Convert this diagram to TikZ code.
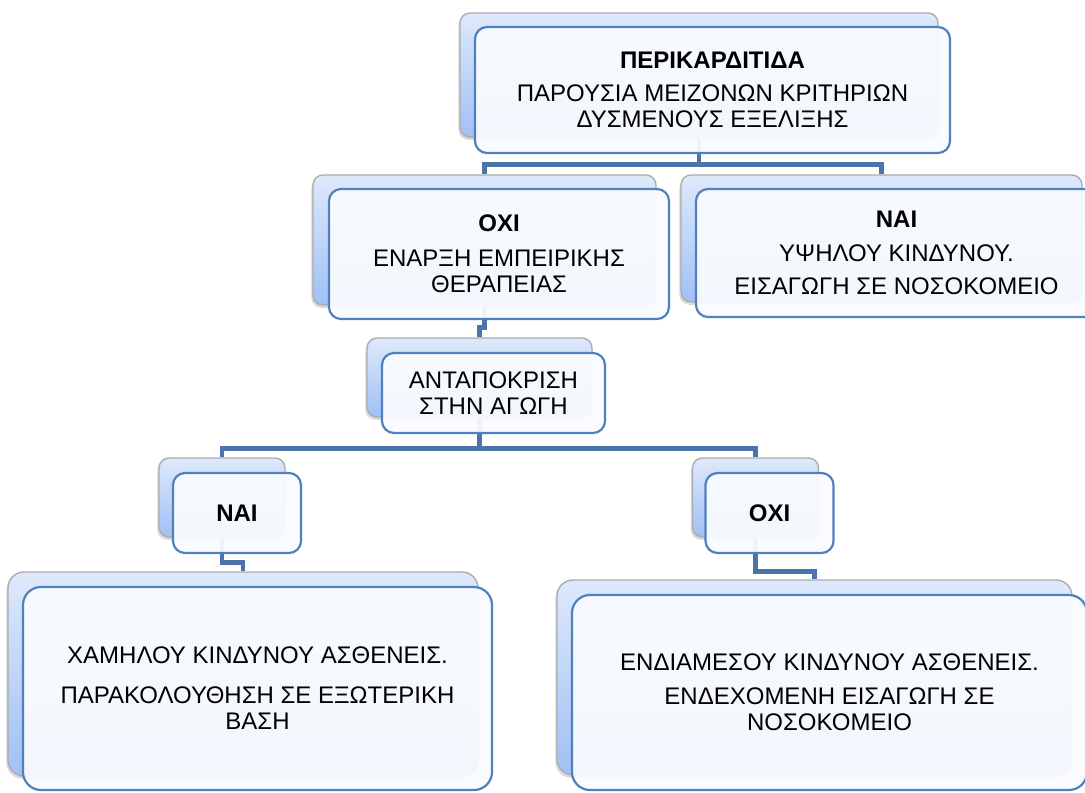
\documentclass[tikz,border=0pt]{standalone}
\usepackage{fontspec}
\setmainfont{Liberation Sans}
\usetikzlibrary{shadows,backgrounds}
\definecolor{linkblue}{RGB}{74,116,170}
\definecolor{boxedge}{RGB}{79,129,189}
\definecolor{backtop}{RGB}{222,233,251}
\definecolor{backbot}{RGB}{160,192,246}
\definecolor{frontfill}{RGB}{249,251,254}

\begin{document}
\begin{tikzpicture}[x=0.5pt, y=-0.5pt,
	back/.style={draw=gray!65, line width=0.7pt, rounded corners=5pt, top color=backtop, bottom color=backbot, drop shadow={shadow xshift=-0.8pt, shadow yshift=-1.4pt, opacity=0.3}},
	front/.style={draw=boxedge, line width=1.1pt, rounded corners=6pt, fill=frontfill, fill opacity=0.94, text opacity=1, align=center, inner sep=2pt, font=\fontsize{12}{13}\selectfont},
	link/.style={draw=linkblue, line width=2.3pt}]
	\useasboundingbox (0,0) rectangle (1085,792);
	\node[back, minimum width=239pt, minimum height=62pt] (topb) at (699,75) {};
	\node[front, minimum width=237.5pt, minimum height=63pt] (top) at (712.5,90) {\textbf{ΠΕΡΙΚΑΡΔΙΤΙΔΑ}\\[3.5pt]ΠΑΡΟΥΣΙΑ ΜΕΙΖΟΝΩΝ ΚΡΙΤΗΡΙΩΝ\\ΔΥΣΜΕΝΟΥΣ ΕΞΕΛΙΞΗΣ};
	\node[back, minimum width=171.5pt, minimum height=65pt] (nob) at (484.5,240) {};
	\node[front, minimum width=170pt, minimum height=65pt] (no) at (499,254) {\textbf{ΟΧΙ}\\[4.5pt]ΕΝΑΡΞΗ ΕΜΠΕΙΡΙΚΗΣ\\ΘΕΡΑΠΕΙΑΣ};
	\node[back, minimum width=200.5pt, minimum height=63.5pt] (yesb) at (881.5,238.5) {};
	\node[front, minimum width=200.5pt, minimum height=64pt] (yes) at (896.5,253) {\textbf{ΝΑΙ}\\[4pt]ΥΨΗΛΟΥ ΚΙΝΔΥΝΟΥ.\\[3.5pt]ΕΙΣΑΓΩΓΗ ΣΕ ΝΟΣΟΚΟΜΕΙΟ};
	\node[back, minimum width=112.5pt, minimum height=39.5pt] (antb) at (479.5,377.5) {};
	\node[front, minimum width=111.5pt, minimum height=40pt] (ant) at (493.5,393) {ΑΝΤΑΠΟΚΡΙΣΗ\\ΣΤΗΝ ΑΓΩΓΗ};
	\node[back, minimum width=63pt, minimum height=39.5pt] (yes2b) at (222,497.5) {};
	\node[front, minimum width=64pt, minimum height=40pt] (yes2) at (237,513) {\textbf{ΝΑΙ}};
	\node[back, minimum width=63pt, minimum height=39.5pt] (no2b) at (755.5,497.5) {};
	\node[front, minimum width=64pt, minimum height=40pt] (no2) at (769.5,513) {\textbf{ΟΧΙ}};
	\node[back, rounded corners=8pt, minimum width=235pt, minimum height=102pt] (lowb) at (243,674) {};
	\node[front, rounded corners=9pt, minimum width=234.5pt, minimum height=101.5pt] (low) at (257.5,688.5) {ΧΑΜΗΛΟΥ ΚΙΝΔΥΝΟΥ ΑΣΘΕΝΕΙΣ.\\[7pt]ΠΑΡΑΚΟΛΟΥΘΗΣΗ ΣΕ ΕΞΩΤΕΡΙΚΗ\\ΒΑΣΗ};
	\node[back, rounded corners=8pt, minimum width=257.5pt, minimum height=97.5pt] (midb) at (814.5,677.5) {};
	\node[front, rounded corners=9pt, minimum width=257.5pt, minimum height=97.5pt] (mid) at (829.5,692.5) {ΕΝΔΙΑΜΕΣΟΥ ΚΙΝΔΥΝΟΥ ΑΣΘΕΝΕΙΣ.\\[4pt]ΕΝΔΕΧΟΜΕΝΗ ΕΙΣΑΓΩΓΗ ΣΕ\\ΝΟΣΟΚΟΜΕΙΟ};
	\begin{scope}[on background layer]
	\draw[link] (topb.south) -- ++(0,27) -| (nob.north);
	\draw[link] (topb.south) -- ++(0,27) -| (yesb.north);
	\draw[link] (nob.south) -- ++(0,22) -| (antb.north);
	\draw[link] (antb.south) -- ++(0,31) -| (yes2b.north);
	\draw[link] (antb.south) -- ++(0,31) -| (no2b.north);
	\draw[link] (yes2b.south) -- ++(0,25) -| (lowb.north);
	\draw[link] (no2b.south) -- ++(0,34) -| (midb.north);
	\end{scope}
\end{tikzpicture}
\end{document}
